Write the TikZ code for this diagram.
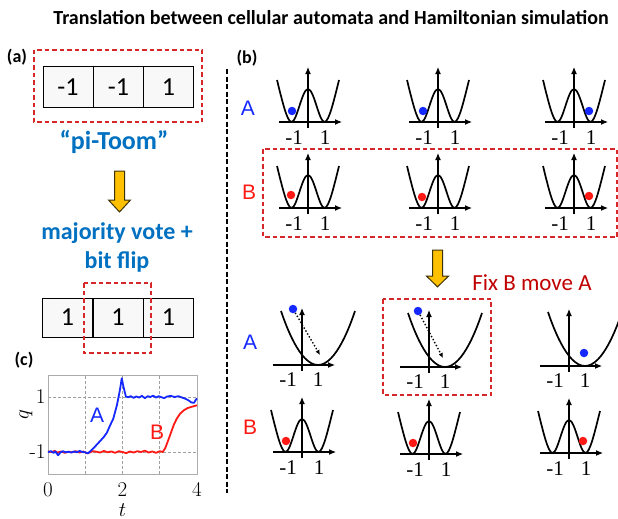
\documentclass[tikz,border=0pt]{standalone}
\usepackage{fontspec}
\usetikzlibrary{arrows.meta}
\newfontfamily\calfont{Carlito}
\newfontfamily\arifont{Liberation Sans}
\newfontfamily\timfont{Liberation Serif}

\definecolor{ofblue}{RGB}{0,112,192}
\definecolor{fixred}{RGB}{192,0,0}
\definecolor{boxred}{RGB}{214,40,40}
\definecolor{ablue}{RGB}{20,40,255}
\definecolor{bred}{RGB}{255,25,20}
\definecolor{cellgray}{RGB}{248,248,248}
\definecolor{arrorange}{RGB}{255,192,0}
\definecolor{arredge}{RGB}{60,50,10}

\tikzset{
  ttl/.style={inner sep=0pt,font=\calfont\bfseries\fontsize{20}{22}\selectfont},
  panel/.style={font=\calfont\bfseries\fontsize{18}{20}\selectfont},
  cell/.style={draw,line width=1pt,fill=cellgray,minimum width=50pt,minimum height=40pt,inner sep=0pt,font=\calfont\fontsize{26}{26}\selectfont},
  bluetxt/.style={text=ofblue,align=center,font=\calfont\bfseries\fontsize{24}{29}\selectfont},
  fixtxt/.style={text=fixred,font=\calfont\fontsize{23}{23}\selectfont},
  rowlbl/.style={font=\arifont\fontsize{21}{21}\selectfont},
  redbox/.style={draw=boxred,line width=1.2pt,dash pattern=on 4.5pt off 3pt},
  sepline/.style={line width=1.6pt,dash pattern=on 5pt off 2.5pt},
  fatarrow/.style={fill=arrorange,draw=arredge,line width=1pt,line join=miter},
  wellline/.style={line width=1.7pt},
  axisline/.style={line width=1.1pt,-{Latex[length=7pt,width=6pt]}},
  welltick/.style={inner sep=0pt,font=\timfont\fontsize{21}{21}\selectfont},
  bdot/.style={circle,fill=ablue,inner sep=0pt,minimum size=8.5pt},
  rdot/.style={circle,fill=bred,inner sep=0pt,minimum size=8.5pt},
  slide/.style={dotted,line width=1.4pt,-{Latex[length=5pt,width=4.5pt]}},
  gridln/.style={gray!75,line width=0.6pt,dash pattern=on 3pt off 2pt},
  frameln/.style={gray!65,line width=0.8pt},
  acurve/.style={ablue,line width=1.8pt,line join=round},
  bcurve/.style={bred,line width=1.8pt,line join=round},
  plottick/.style={font=\fontsize{21}{21}\selectfont,inner sep=0pt},
  pics/dwell/.style={code={
    \draw[axisline] (-29,0) -- (34,0);
    \draw[axisline] (0,-6) -- (0,55);
    \draw[wellline] (-31,42) .. controls (-26,22) and (-21,0) .. (-16.5,0)
      .. controls (-11,0) and (-6,33) .. (0,33)
      .. controls (6,33) and (11,0) .. (16.5,0)
      .. controls (21,0) and (26,22) .. (31,42);
    \node[welltick] (-m) at (-14,-16) {-1};
    \node[welltick] (-p) at (17,-16) {1};
  }},
  pics/swell/.style={code={
    \draw[axisline] (-29,0) -- (33,0);
    \draw[axisline] (0,-6) -- (0,57);
    \draw[wellline] (-21,54) parabola bend (16,0) (53,54);
    \node[welltick] (-m) at (-14,-15) {-1};
    \node[welltick] (-p) at (16,-15) {1};
  }},
  pics/downarr/.style={code={
    \draw[fatarrow] (-5,0) -- (5,0) -- (5,-29) -- (11,-29) -- (0,-41) -- (-11,-29) -- (-5,-29) -- cycle;
  }}
}

\begin{document}
\begin{tikzpicture}[x=1pt,y=1pt]
\useasboundingbox (0,0) rectangle (618,-519);

\node[ttl] (title) at (331,-18) {Translation between cellular automata and Hamiltonian simulation};

% panel (a)
\node[panel] (pa) at (17,-57) {(a)};
\draw[redbox] (34,-50) rectangle (202,-122);
\node[cell] (ca1) at (68,-87) {-1};
\node[cell] (ca2) at (118.5,-87) {-1};
\node[cell] (ca3) at (168.5,-87) {1};
\node[bluetxt,font=\calfont\bfseries\fontsize{26}{29}\selectfont] (toom) at (114,-142) {“pi-Toom”};
\pic at (119.5,-171) {downarr};
\node[bluetxt] (vote) at (117,-247) {majority vote +\\bit flip};
\node[cell,minimum height=39pt] (cb1) at (67.5,-317.5) {1};
\node[cell,minimum height=39pt] (cb2) at (118,-317.5) {1};
\node[cell,minimum height=39pt] (cb3) at (168.5,-317.5) {1};
\draw[redbox] (84,-283) rectangle (151,-353);

% separator
\draw[sepline] (227,-69) -- (227,-493);

% panel (b)
\node[panel] (pb) at (247,-58) {(b)};
\node[rowlbl,text=ablue] (ra1) at (248,-108) {A};
\node[rowlbl,text=bred] (rb1) at (249,-192) {B};
\draw[redbox] (263,-149) rectangle (617,-237);
\pic (wa1) at (308,-122) {dwell};
\pic (wa2) at (438,-122) {dwell};
\pic (wa3) at (574,-122) {dwell};
\pic (wb1) at (308,-208) {dwell};
\pic (wb2) at (438,-208) {dwell};
\pic (wb3) at (574,-208) {dwell};
\node[bdot] (da1) at (292,-111) {};
\node[bdot] (da2) at (423,-111) {};
\node[bdot] (da3) at (589,-111) {};
\node[rdot] (db1) at (291,-195) {};
\node[rdot] (db2) at (422,-197) {};
\node[rdot] (db3) at (589,-196) {};

\pic[yscale=0.9] at (437.5,-250) {downarr};
\node[fixtxt] (fix) at (532,-283) {Fix B move A};

\node[rowlbl,text=ablue] (ra2) at (250,-342) {A};
\node[rowlbl,text=bred] (rb2) at (250,-427) {B};
\draw[redbox] (383,-299) rectangle (491,-395);
\pic (sa1) at (302,-365) {swell};
\pic (sa2) at (429,-367) {swell};
\pic (sa3) at (569,-366) {swell};
\pic (sb1) at (302,-452) {dwell};
\pic (sb2) at (429,-454) {dwell};
\pic (sb3) at (569,-453) {dwell};
\node[bdot] (ea1) at (293,-309) {};
\node[bdot] (ea2) at (418,-311) {};
\node[bdot] (ea3) at (584,-353) {};
\node[rdot] (eb1) at (286,-441) {};
\node[rdot] (eb2) at (413,-443) {};
\node[rdot] (eb3) at (583,-441) {};
\coordinate (fa1) at (320,-355);
\coordinate (fa2) at (443,-358);
\draw[slide] (ea1) -- (fa1);
\draw[slide] (ea2) -- (fa2);

% panel (c)
\node[panel] (pc) at (24,-360) {(c)};
\begin{scope}[shift={(48,-424.5)},x=37.25pt,y=27.5pt]
\draw[gridln] (1,-1.8) -- (1,1.8);
\draw[gridln] (2,-1.8) -- (2,1.8);
\draw[gridln] (3,-1.8) -- (3,1.8);
\draw[gridln] (0,1) -- (4,1);
\draw[gridln] (0,-1) -- (4,-1);
\draw[frameln] (0,-1.8) rectangle (4,1.8);
\draw[bcurve] plot coordinates {(0,-0.98) (0.1,-1.0) (0.18,-0.96) (0.25,-1.02) (0.35,-0.98) (0.45,-1.03) (0.55,-0.99) (0.65,-1.01) (0.75,-0.97) (0.85,-1.02) (0.95,-0.98) (1.05,-1.05) (1.12,-1.02) (1.2,-0.97) (1.3,-0.99) (1.4,-1.02) (1.5,-0.96) (1.6,-1.01) (1.7,-0.98) (1.8,-1.03) (1.9,-0.97) (2.0,-1.0) (2.1,-1.04) (2.2,-0.98) (2.3,-1.02) (2.4,-0.97) (2.5,-1.0) (2.6,-0.95) (2.7,-1.02) (2.8,-0.98) (2.9,-1.03) (3.0,-0.97) (3.08,-1.0) (3.15,-0.85) (3.22,-0.6) (3.3,-0.3) (3.38,0.0) (3.46,0.22) (3.55,0.4) (3.65,0.52) (3.75,0.6) (3.85,0.64) (3.95,0.68) (4.0,0.7)};
\draw[acurve] plot coordinates {(0,-1.0) (0.08,-0.97) (0.15,-1.03) (0.2,-0.98) (0.27,-1.12) (0.33,-1.02) (0.4,-0.97) (0.47,-1.01) (0.55,-0.99) (0.62,-1.02) (0.7,-0.98) (0.78,-1.01) (0.85,-0.96) (0.92,-1.0) (1.0,-1.01) (1.07,-1.05) (1.13,-0.98) (1.25,-0.82) (1.4,-0.6) (1.5,-0.45) (1.58,-0.3) (1.66,-0.05) (1.75,0.2) (1.85,0.7) (1.93,1.25) (1.98,1.68) (2.03,1.35) (2.09,1.02) (2.15,0.99) (2.22,1.03) (2.3,0.97) (2.37,1.02) (2.45,0.98) (2.52,1.04) (2.6,0.96) (2.68,1.03) (2.75,1.0) (2.82,1.05) (2.9,0.98) (2.97,1.03) (3.05,0.99) (3.12,0.96) (3.2,1.02) (3.3,1.04) (3.4,1.0) (3.5,1.03) (3.6,0.98) (3.7,0.93) (3.78,0.87) (3.85,0.8) (3.92,0.79) (3.97,0.9) (4.0,0.95)};
\node[plottick,anchor=east] (qp) at (-0.06,1) {1};
\node[plottick,anchor=east] (qm) at (-0.06,-1) {-1};
\node[plottick] (t0) at (0,-2.38) {0};
\node[plottick] (t2) at (2,-2.38) {2};
\node[plottick] (t4) at (4,-2.38) {4};
\node[plottick] (tl) at (2,-3.1) {$t$};
\node[plottick,rotate=90] (ql) at (-0.59,0.35) {$q$};
\node[rowlbl,text=ablue] (la) at (1.32,0.35) {A};
\node[rowlbl,text=bred] (lb) at (2.93,-0.3) {B};
\end{scope}
\end{tikzpicture}
\end{document}
